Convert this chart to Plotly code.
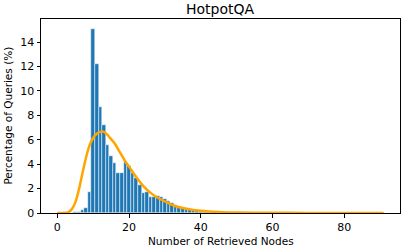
import plotly.graph_objects as go

# Histogram: number of retrieved nodes (integer bins) vs percentage of queries
node_counts = list(range(0, 51))
percentages = [
    0.0, 0.0, 0.05, 0.02, 0.03, 0.05, 0.1, 0.22, 0.45, 1.7,
    15.1, 12.2, 8.65, 7.2, 5.55, 4.65, 4.1, 3.28, 3.28, 4.22,
    3.88, 3.3, 2.85, 2.32, 1.64, 1.72, 1.3, 1.32, 1.42, 1.32,
    1.15, 0.97, 0.78, 0.63, 0.52, 0.42, 0.35, 0.28, 0.22, 0.17,
    0.14, 0.11, 0.09, 0.07, 0.06, 0.05, 0.04, 0.035, 0.03, 0.025,
    0.02,
]

# Fitted density curve
curve_x = [0, 1, 2, 3, 4, 5, 6, 7, 8, 9, 10, 11, 12, 13, 14, 15, 16, 17, 18, 19,
           20, 22, 24, 26, 28, 30, 33, 36, 40, 45, 50, 60, 70, 80, 91]
curve_y = [0.0, 0.0, 0.0, 0.05, 0.3, 0.85, 1.9, 3.25, 4.55, 5.55, 6.15, 6.5, 6.65, 6.65,
           6.4, 6.05, 5.7, 5.2, 4.7, 4.2, 3.8, 2.95, 2.2, 1.65, 1.25, 0.95, 0.55, 0.35,
           0.18, 0.08, 0.04, 0.015, 0.008, 0.004, 0.002]

x_ticks = [0, 20, 40, 60, 80]
y_ticks = [0, 2, 4, 6, 8, 10, 12, 14]

FONT = "DejaVu Sans"

fig = go.Figure()
fig.add_trace(go.Bar(
    x=node_counts, y=percentages, width=1.0,
    marker=dict(color="#1f77b4", line=dict(color="white", width=0.5)),
    showlegend=False,
))
fig.add_trace(go.Scatter(
    x=curve_x, y=curve_y, mode="lines",
    line=dict(color="#FFA500", width=2.5, shape="spline", smoothing=0.8),
    showlegend=False,
))

axis_common = dict(
    showgrid=False, zeroline=False, showline=True, linecolor="black", linewidth=1,
    mirror=True, ticks="outside", ticklen=3.5, tickwidth=0.8, tickcolor="black",
    tickfont=dict(family=FONT, size=11, color="black"),
)

fig.update_layout(
    width=406, height=251,
    margin=dict(l=41, r=6, t=19, b=38),
    paper_bgcolor="white", plot_bgcolor="white",
    bargap=0,
    font=dict(family=FONT, color="black"),
    xaxis=dict(range=[-4.55, 95.55], tickvals=x_ticks, **axis_common),
    yaxis=dict(range=[0, 15.9], tickvals=y_ticks, **axis_common),
    annotations=[
        dict(text="HotpotQA", xref="paper", yref="paper", x=0.5, y=1.052,
             xanchor="center", yanchor="middle", showarrow=False,
             font=dict(family=FONT, size=14, color="black")),
        dict(text="Number of Retrieved Nodes", xref="paper", yref="paper", x=0.5, y=-0.143,
             xanchor="center", yanchor="middle", showarrow=False,
             font=dict(family=FONT, size=10.5, color="black")),
        dict(text="Percentage of Queries (%)", xref="paper", yref="paper", x=-0.093, y=0.5,
             xanchor="center", yanchor="middle", showarrow=False, textangle=-90,
             font=dict(family=FONT, size=10.5, color="black")),
    ],
)

fig.write_html(
    "out.html",
    config={"displayModeBar": False},
    post_script="document.body.style.margin='0';document.body.style.padding='0';",
)
